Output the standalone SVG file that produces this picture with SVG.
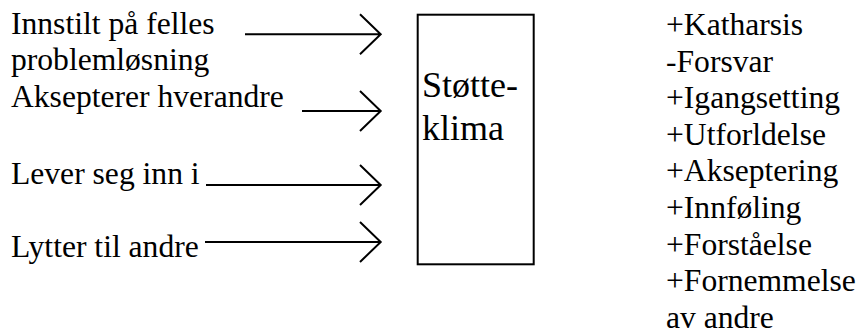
<svg xmlns="http://www.w3.org/2000/svg" width="863" height="334" viewBox="0 0 863 334">
<style>
.c{stroke:#000;stroke-width:2;fill:none}
</style>
<rect width="863" height="334" fill="#fff"/>
<g font-family="Liberation Serif, serif" fill="#000">
<g id="inputs" font-size="31.6">
<text x="11" y="34">Innstilt på felles</text>
<text x="11" y="70">problemløsning</text>
<text x="11" y="107">Aksepterer hverandre</text>
<text x="11" y="184">Lever seg inn i</text>
<text x="11" y="257">Lytter til andre</text>
</g>
<g id="stotteklima" font-size="36">
<rect x="417.7" y="14.7" width="116" height="249.6" fill="none" stroke="#000" stroke-width="2"/>
<text x="422" y="97">Støtte-</text>
<text x="422" y="140">klima</text>
</g>
<g id="outcomes" font-size="31.6">
<text x="666" y="35">+Katharsis</text>
<text x="666" y="71.6">-Forsvar</text>
<text x="666" y="108.2">+Igangsetting</text>
<text x="666" y="144.8">+Utforldelse</text>
<text x="666" y="181.4">+Akseptering</text>
<text x="666" y="218">+Innføling</text>
<text x="666" y="254.6">+Forståelse</text>
<text x="666" y="291.2">+Fornemmelse</text>
<text x="666" y="327.8">av andre</text>
</g>
</g>
<g id="connectors" class="c">
<path d="M245 34.3H380.5M360 14.3L380.7 34.3L360 54.3"/>
<path d="M302 111H380.5M360 91L380.7 111L360 131"/>
<path d="M206 185H380.5M360 165L380.7 185L360 205"/>
<path d="M205 242H380.5M360 222L380.7 242L360 262"/>
</g>
</svg>
